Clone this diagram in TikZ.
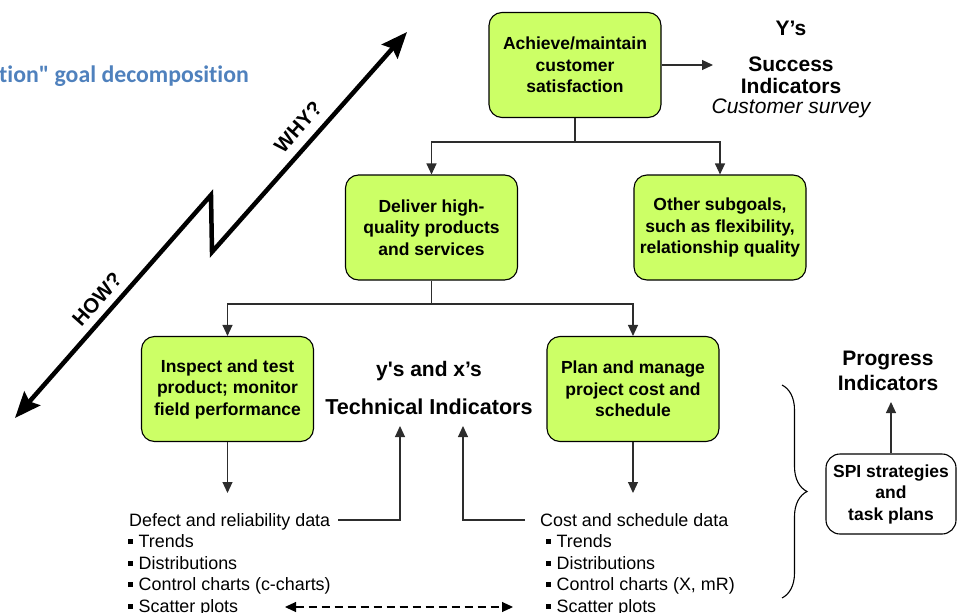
\documentclass[tikz,border=0pt]{standalone}
\usepackage{fontspec}
\setmainfont{Liberation Sans}
\newfontfamily\plainsans{Liberation Sans}
\newfontfamily\calibrifont[Ligatures=NoCommon]{Carlito}
\usetikzlibrary{arrows.meta,decorations.pathreplacing,calc}
\definecolor{boxgreen}{RGB}{204,255,102}
\definecolor{titleblue}{RGB}{79,129,189}
\definecolor{conncol}{RGB}{45,45,45}
\newcommand\mybullet{\rule[3.5pt]{5pt}{5pt}\hspace{5.5pt}}
\begin{document}
\begin{tikzpicture}[x=1pt,y=-1pt,
  goal/.style={draw=black, line width=1.1pt, fill=boxgreen, rounded corners=13pt,
    minimum width=172pt, minimum height=105pt, align=center, inner sep=0pt,
    font=\fontsize{17.5}{21.5}\selectfont\bfseries},
  spibox/.style={draw=black, line width=1.1pt, fill=white, rounded corners=14pt,
    minimum width=130pt, minimum height=80pt, align=center, inner sep=0pt,
    font=\fontsize{17.5}{21.5}\selectfont\bfseries},
  conn/.style={draw=conncol, line width=1.1pt, -{Triangle[length=11pt,width=10pt]}},
  plain/.style={draw=conncol, line width=1.1pt},
  head/.style={font=\fontsize{21}{22}\selectfont\bfseries, align=center, inner sep=0pt},
  datatext/.style={font=\fontsize{17.9}{21.5}\selectfont, anchor=base west, inner sep=0pt},
  rotlabel/.style={font=\fontsize{20.5}{24}\selectfont\bfseries, rotate=48.4, inner sep=0pt},
  bigarrow/.style={line width=4.5pt, line join=miter,
    {Stealth[length=26pt,width=21pt,inset=4pt]}-{Stealth[length=26pt,width=21pt,inset=4pt]}},
  dashedarrow/.style={draw=black, line width=1.1pt, dash pattern=on 8pt off 5pt,
    {Triangle[length=11pt,width=10pt]}-{Triangle[length=11pt,width=10pt]}}
]
\useasboundingbox (0,0) rectangle (961,613);

% title (cut off at left)
\node[font=\calibrifont\bfseries\fontsize{23.8}{28}\selectfont, text=titleblue,
  anchor=base east, inner sep=0pt] (title) at (249,82) {tion" goal decomposition};

% zigzag WHY/HOW arrow
\coordinate (za) at (15,418);
\coordinate (zb) at (211,195);
\coordinate (zc) at (212,252);
\coordinate (zd) at (407,32);
\draw[bigarrow] (za) -- (zb) -- (zc) -- (zd);
\node[rotlabel] (why) at (298,127) {WHY?};
\node[rotlabel] (how) at (97,299) {HOW?};

% goal boxes
\node[goal] (top) at (575,65) {Achieve/maintain\\customer\\satisfaction};
\node[goal] (deliver) at (431.5,227.5) {Deliver high-\\quality products\\and services};
\node[goal] (other) at (720,227.5) {Other subgoals,\\such as flexibility,\\relationship quality};
\node[goal] (inspect) at (227.5,389) {Inspect and test\\product; monitor\\field performance};
\node[goal] (plan) at (633,389) {Plan and manage\\project cost and\\schedule};

% success indicators
\node[head] (ys) at (791,28) {Y’s};
\node[head] (succ) at (791,75) {Success\\Indicators};
\node[font=\fontsize{21}{22}\selectfont\itshape, inner sep=0pt] (survey) at (791,108) {Customer survey};
\coordinate (succin) at (713,65);
\draw[conn] (top.east) -- (succin);

% tree connectors
\coordinate (j1) at (575,142);
\draw[plain] (top.south) -- (j1);
\draw[conn] (j1) -| (deliver.north);
\draw[conn] (j1) -| (other.north);
\coordinate (j2) at (431.5,304);
\draw[plain] (deliver.south) -- (j2);
\draw[conn] (j2) -| (inspect.north);
\draw[conn] (j2) -| (plan.north);

% technical indicators
\node[head] (yx) at (429,371) {{\plainsans y's} and x’s};
\node[head, font=\fontsize{21.6}{22}\selectfont\bfseries] (tech) at (429,407) {Technical Indicators};

% data lists
\node[datatext] (d0) at (129,526) {Defect and reliability data};
\node[datatext] (d1) at (128,547.5) {\mybullet Trends};
\node[datatext] (d2) at (128,569) {\mybullet Distributions};
\node[datatext] (d3) at (128,590.5) {\mybullet Control charts (c-charts)};
\node[datatext] (d4) at (128,612) {\mybullet Scatter plots};

\node[datatext] (c0) at (540,526) {Cost and schedule data};
\node[datatext] (c1) at (546,547.5) {\mybullet Trends};
\node[datatext] (c2) at (546,569) {\mybullet Distributions};
\node[datatext] (c3) at (546,590.5) {\mybullet Control charts (X, mR)};
\node[datatext] (c4) at (546,612) {\mybullet Scatter plots};

\coordinate (inspdown) at (227.5,493);
\coordinate (plandown) at (633,493);
\draw[conn] (inspect.south) -- (inspdown);
\draw[conn] (plan.south) -- (plandown);

\coordinate (dstart) at (338,520);
\coordinate (t1) at (400,426);
\coordinate (cstart) at (525,520);
\coordinate (t2) at (463,426);
\draw[conn] (dstart) -| (t1);
\draw[conn] (cstart) -| (t2);

\coordinate (sl) at (285,607);
\coordinate (sr) at (513,607);
\draw[dashedarrow] (sl) -- (sr);

% brace and progress indicators
\draw[decorate, decoration={brace, amplitude=25pt, aspect=0.5}, line width=1.1pt]
  (782,385) -- (782,598);
\node[spibox] (spi) at (891,494) {SPI strategies\\and\\task plans};
\node[head, font=\fontsize{21}{25}\selectfont\bfseries] (prog) at (888,370.5) {Progress\\Indicators};
\coordinate (progin) at (891,402);
\draw[conn] (spi.north) -- (progin);
\end{tikzpicture}
\end{document}
